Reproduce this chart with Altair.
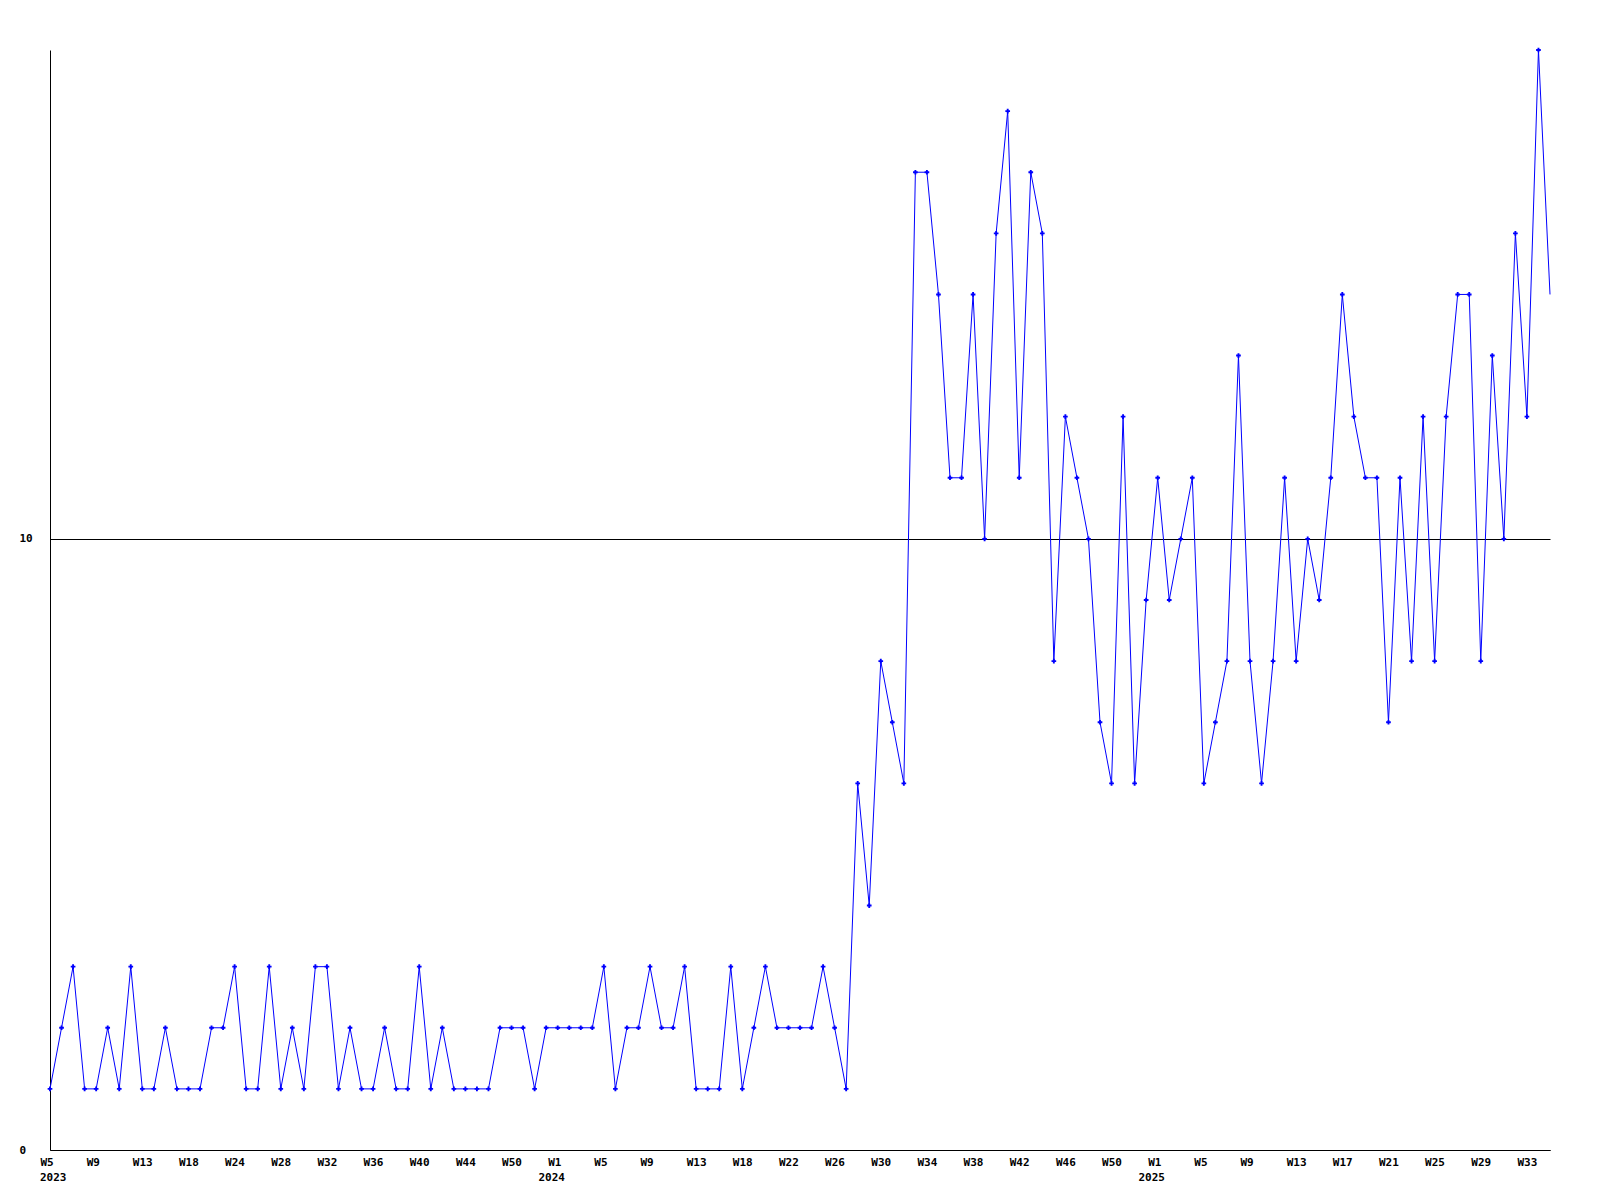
import altair as alt
import pandas as pd

# weekly values, W5 2023 .. W35 2025 (one per point)
values = [
    1, 2, 3, 1, 1, 2, 1, 3, 1, 1,
    2, 1, 1, 1, 2, 2, 3, 1, 1, 3,
    1, 2, 1, 3, 3, 1, 2, 1, 1, 2,
    1, 1, 3, 1, 2, 1, 1, 1, 1, 2,
    2, 2, 1, 2, 2, 2, 2, 2, 3, 1,
    2, 2, 3, 2, 2, 3, 1, 1, 1, 3,
    1, 2, 3, 2, 2, 2, 2, 3, 2, 1,
    6, 4, 8, 7, 6, 16, 16, 14, 11, 11,
    14, 10, 15, 17, 11, 16, 15, 8, 12, 11,
    10, 7, 6, 12, 6, 9, 11, 9, 10, 11,
    6, 7, 8, 13, 8, 6, 8, 11, 8, 10,
    9, 11, 14, 12, 11, 11, 7, 11, 8, 12,
    8, 12, 14, 14, 8, 13, 10, 15, 12, 18,
    14,
]

# x tick labels, one every 4 points
tick_labels = [
    "W5", "W9", "W13", "W18", "W24", "W28", "W32", "W36", "W40", "W44", "W50",
    "W1", "W5", "W9", "W13", "W18", "W22", "W26", "W30", "W34", "W38", "W42", "W46", "W50",
    "W1", "W5", "W9", "W13", "W17", "W21", "W25", "W29", "W33",
]
tick_step = 4

years = ["2023", "2024", "2025"]
year_index = [0, 44, 96]

y_ticks = [0, 10]

n = len(values)
df = pd.DataFrame({"i": list(range(n)), "v": values})
ydf = pd.DataFrame({"i": year_index, "year": years})

FONT = "DejaVu Sans Mono"
BLUE = "#0000ff"

label_js = "[" + ",".join("'" + t + "'" for t in tick_labels) + "]"
tick_values = list(range(0, tick_step * len(tick_labels), tick_step))

x_enc = alt.X(
    "i:Q",
    scale=alt.Scale(domain=[0, n - 1], nice=False, zero=False),
    axis=alt.Axis(
        values=tick_values,
        labelExpr=label_js + "[round(datum.value/" + str(tick_step) + ")]",
        title=None,
        grid=False,
        ticks=False,
        tickSize=0,
        domainColor="black",
        domainWidth=1,
        labelAlign="left",
        labelOffset=-10,
        labelBaseline="top",
        labelPadding=6,
        labelFont=FONT,
        labelFontSize=11,
        labelFontWeight="bold",
        labelColor="black",
        labelOverlap=False,
        labelFlush=False,
        labelBound=False,
    ),
)

y_enc = alt.Y(
    "v:Q",
    scale=alt.Scale(domain=[0, 18], nice=False, zero=True),
    axis=alt.Axis(
        values=y_ticks,
        format="d",
        title=None,
        grid=True,
        gridColor="black",
        gridWidth=1,
        gridOpacity=1,
        ticks=False,
        tickSize=0,
        domainColor="black",
        domainWidth=1,
        labelAlign="left",
        labelBaseline="middle",
        labelPadding=31,
        labelFont=FONT,
        labelFontSize=11,
        labelFontWeight="bold",
        labelColor="black",
        labelFlush=False,
        labelBound=False,
    ),
)

base = alt.Chart(df)

line = base.mark_line(color=BLUE, strokeWidth=1).encode(x=x_enc, y=y_enc)

points = base.mark_point(
    shape="cross", filled=True, size=22, color=BLUE, opacity=1
).encode(x="i:Q", y="v:Q").transform_filter(alt.datum.i < n - 1)

year_first = alt.Chart(ydf).mark_text(
    align="left", baseline="top", dx=-10, font=FONT, fontSize=11,
    fontWeight="bold", color="black"
).encode(x="i:Q", y=alt.value(1122), text="year:N").transform_filter(alt.datum.i == 0)

year_rest = alt.Chart(ydf).mark_text(
    align="center", baseline="top", dx=-6, font=FONT, fontSize=11,
    fontWeight="bold", color="black"
).encode(x="i:Q", y=alt.value(1122), text="year:N").transform_filter(alt.datum.i > 0)

chart = alt.layer(line, points, year_first, year_rest).properties(
    width=1500,
    height=1100,
    autosize=alt.AutoSizeParams(type="none"),
    padding={"left": 42, "top": 42, "right": 42, "bottom": 50},
    background="white",
).configure_view(stroke=None)

chart.save("out.html", embed_options={"renderer": "svg", "actions": False})
